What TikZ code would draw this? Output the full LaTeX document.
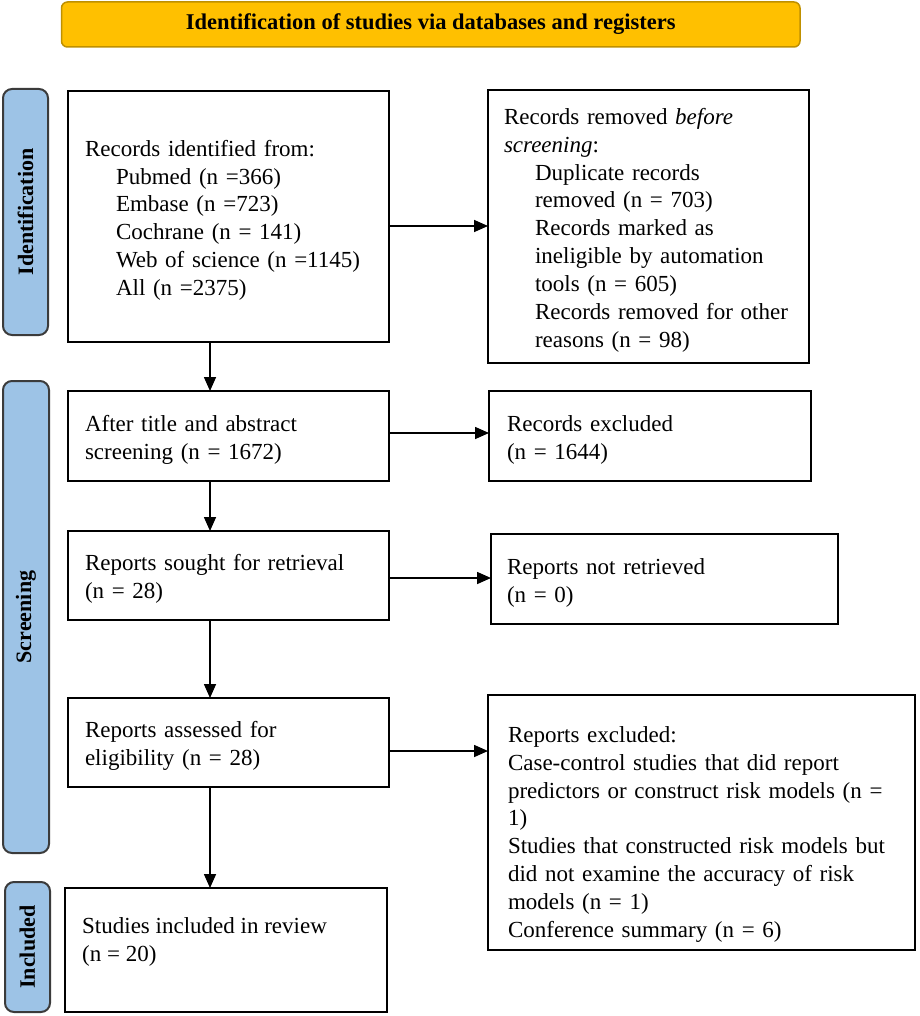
\documentclass[tikz,border=0pt]{standalone}
\usepackage{fontspec}
\setmainfont{Liberation Serif}
\usetikzlibrary{arrows.meta,calc}
\definecolor{bannerfill}{HTML}{FFC000}
\definecolor{bannerdraw}{HTML}{BF9000}
\definecolor{barfill}{HTML}{9DC3E6}
\definecolor{bardraw}{HTML}{3B3B3B}
\newcommand\fstrut{\rule{0pt}{23.5pt}}
\newcommand\ind[1]{\hspace*{31pt}\mbox{#1}}
\tikzset{
 flowbox/.style={draw=black, line width=2pt, inner xsep=17pt, inner ysep=0pt, outer sep=0pt, anchor=north west, align=left, font=\fontsize{23}{27.8}\selectfont},
 sidebar/.style={draw=bardraw, fill=barfill, line width=2pt, rounded corners=9pt, anchor=north west, outer sep=0pt, inner sep=0pt},
 sidelabel/.style={rotate=90, font=\bfseries\fontsize{22}{26}\selectfont},
 banner/.style={draw=bannerdraw, fill=bannerfill, line width=1.5pt, rounded corners=6pt, anchor=north west, outer sep=0pt, inner sep=0pt, font=\bfseries\fontsize{22.5}{26}\selectfont},
 arr/.style={line width=1.6pt, -{Triangle[length=14pt,width=12pt]}},
}
\begin{document}
\begin{tikzpicture}[x=1pt, y=-1pt]
\useasboundingbox (0,0) rectangle (919,1016);
% banner
\node[banner, minimum width=738.5pt, minimum height=45pt] (ban) at (61.5,2) {Identification of studies via databases and registers};
% side bars
\node[sidebar, minimum width=45pt, minimum height=246pt] (sb1) at (3,89) {};
\node[sidelabel] (sl1) at (sb1.center) {Identification};
\node[sidebar, minimum width=46pt, minimum height=472pt] (sb2) at (3,381) {};
\node[sidelabel] (sl2) at (sb2.center) {Screening};
\node[sidebar, minimum width=45pt, minimum height=130pt] (sb3) at (5,882) {};
\node[sidelabel] (sl3) at (sb3.center) {Included};
% left column
\node[flowbox, minimum width=321pt, minimum height=251pt, text width=287pt] (b1) at (68,91)
 {\fstrut Records identified from:\\
  \ind{Pubmed (n =366)}\\
  \ind{Embase (n =723)}\\
  \ind{Cochrane (n = 141)}\\
  \ind{Web of science (n =1145)}\\
  \ind{All (n =2375)}};
\node[flowbox, minimum width=321pt, minimum height=90pt, text width=287pt] (b2) at (68,391)
 {\fstrut After title and abstract\\ screening (n = 1672)};
\node[flowbox, minimum width=321pt, minimum height=89pt, text width=287pt] (b3) at (68,531)
 {\fstrut Reports sought for retrieval\\ (n = 28)};
\node[flowbox, minimum width=321pt, minimum height=89pt, text width=287pt] (b4) at (68,698)
 {\fstrut Reports assessed for\\ eligibility (n = 28)};
\node[flowbox, minimum width=322pt, minimum height=124pt] (b5) at (65,888) {};
\node[anchor=west, align=left, inner sep=0pt, font=\fontsize{23}{27.8}\selectfont] (b5t) at (82,942)
 {Studies included in review\\ (n = 20)};
% right column
\node[flowbox, inner xsep=16pt, minimum width=321pt, minimum height=273pt, text width=289pt] (r1) at (488,90)
 {\fstrut Records removed \textit{before}\\
  \textit{screening}:\\
  \ind{Duplicate records}\\
  \ind{removed (n = 703)}\\
  \ind{Records marked as}\\
  \ind{ineligible by automation}\\
  \ind{tools (n = 605)}\\
  \ind{Records removed for other}\\
  \ind{reasons (n = 98)}};
\node[flowbox, inner xsep=18pt, minimum width=322pt, minimum height=90pt, text width=286pt] (r2) at (489,391)
 {\fstrut Records excluded\\ (n = 1644)};
\node[flowbox, inner xsep=16pt, minimum width=347pt, minimum height=90pt, text width=315pt] (r3) at (491,534)
 {\fstrut Reports not retrieved\\ (n = 0)};
\node[flowbox, inner xsep=20pt, minimum width=427pt, minimum height=255pt, text width=387pt] (r4) at (488,695)
 {\rule{0pt}{39.5pt}Reports excluded:\\
  \mbox{Case-control studies that did report}\\
  \mbox{predictors or construct risk models (n =}\\
  1)\\
  \mbox{Studies that constructed risk models but}\\
  \mbox{did not examine the accuracy of risk}\\
  models (n = 1)\\
  Conference summary (n = 6)};
% vertical arrows
\coordinate (v1) at ([xshift=-18.5pt]b1.south);
\coordinate (v2) at ([xshift=-18.5pt]b2.south);
\coordinate (v3) at ([xshift=-18.5pt]b3.south);
\coordinate (v4) at ([xshift=-18.5pt]b4.south);
\draw[arr] (v1) -- (v1 |- b2.north);
\draw[arr] (v2) -- (v2 |- b3.north);
\draw[arr] (v3) -- (v3 |- b4.north);
\draw[arr] (v4) -- (v4 |- b5.north);
% horizontal arrows
\coordinate (h1) at ([yshift=-9.5pt]b1.east);
\coordinate (h2) at ([yshift=3pt]b2.east);
\coordinate (h3) at ([yshift=-2.5pt]b3.east);
\coordinate (h4) at ([yshift=-8.5pt]b4.east);
\draw[arr] (h1) -- (h1 -| r1.west);
\draw[arr] (h2) -- (h2 -| r2.west);
\draw[arr] (h3) -- (h3 -| r3.west);
\draw[arr] (h4) -- (h4 -| r4.west);
\end{tikzpicture}
\end{document}
